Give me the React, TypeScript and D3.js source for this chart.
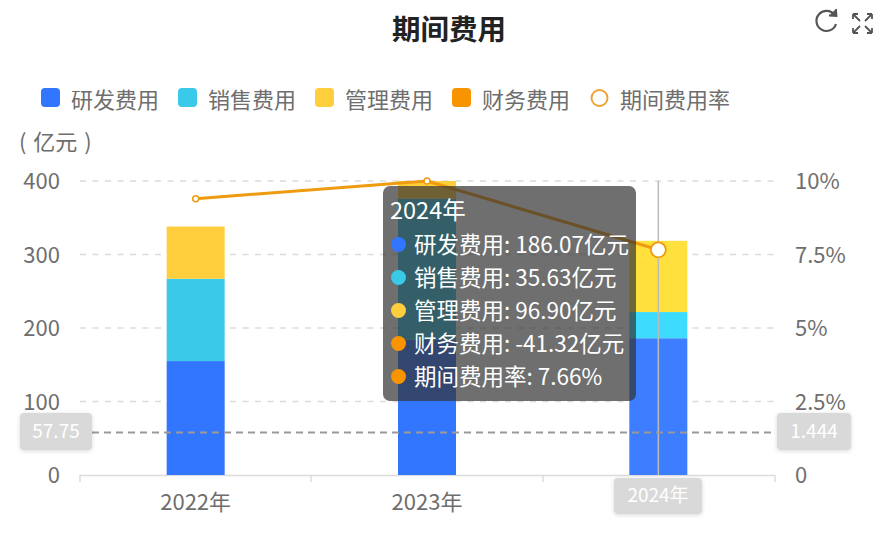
// @ts-nocheck
import React from "react";
import * as d3 from "d3";

const years = ["2022年", "2023年", "2024年"];
const seriesNames = ["研发费用", "销售费用", "管理费用", "财务费用"];
const rdValues = [155, 184, 186.07];
const salesValues = [112, 192, 35.63];
const adminValues = [71, 24, 96.9];
const financeValues = [-30, -35, -41.32];
const rateValues = [9.4, 10, 7.66];
const leftTicks = [0, 100, 200, 300, 400];
const rightTicks = [0, 2.5, 5, 7.5, 10];
const seriesColors = ["#3276ff", "#3bc9ea", "#ffce3d", "#f79400"];
const hoverColors = ["#3d7dff", "#3ddcff", "#ffe03d", "#ff9e00"];
const lineColor = "#ef9b0f";
const tooltipRows = ["研发费用: 186.07亿元", "销售费用: 35.63亿元", "管理费用: 96.90亿元", "财务费用: -41.32亿元", "期间费用率: 7.66%"];
const tooltipDots = ["#3276ff", "#3bc9ea", "#ffce3d", "#f79400", "#f79400"];
const pointerLeft = 57.75;
const pointerRight = 1.444;

const font = "'Noto Sans CJK SC', 'Noto Sans', sans-serif";
const grey = "#6e6e6e";

export default function App() {
  const x = d3.scaleBand().domain(years).range([80, 774]);
  const y = d3.scaleLinear().domain([0, 400]).range([475, 181]);
  const yRate = d3.scaleLinear().domain([0, 10]).range([475, 181]);
  const barW = 58;
  const cx = (d) => x(d) + x.bandwidth() / 2;

  const rows = years.map((yr, i) => ({ yr, a: rdValues[i], b: salesValues[i], c: adminValues[i], d: financeValues[i] }));
  const stacked = d3.stack().keys(["a", "b", "c"])(rows);
  const line = d3.line().x((d, i) => cx(years[i])).y((d) => yRate(d));

  const legendX = [41, 178, 315, 452];
  const boundaries = [80, 311, 543, 775];

  return (
    <svg width={886} height={540} style={{ position: "absolute", left: 0, top: 0, fontFamily: font }}>
      <defs>
        <filter id="labelShadow" x="-20%" y="-20%" width="140%" height="140%">
          <feDropShadow dx="0" dy="1" stdDeviation="2" floodColor="#000" floodOpacity="0.15" />
        </filter>
      </defs>
      <rect width={886} height={540} fill="#fff" />
      <text x={449} y={40} textAnchor="middle" fontSize={28.5} fontWeight={700} fill="#222">期间费用</text>

      {/* toolbox icons */}
      <g fill="none" stroke="#555" strokeWidth={2.2}>
        <path d="M834.5 15 A10 10 0 1 0 836 24" />
        <path d="M829 15.5 L836.5 16 L836 9" strokeWidth={1.8} fill="#555" />
        <path d="M853 14 L860 21 M853 14 l0 5 M853 14 l5 0" strokeWidth={1.8} />
        <path d="M872 14 L865 21 M872 14 l0 5 M872 14 l-5 0" strokeWidth={1.8} />
        <path d="M853 33 L860 26 M853 33 l0 -5 M853 33 l5 0" strokeWidth={1.8} />
        <path d="M872 33 L865 26 M872 33 l0 -5 M872 33 l-5 0" strokeWidth={1.8} />
      </g>

      {/* legend */}
      {seriesNames.map((name, i) => (
        <g key={name}>
          <rect x={legendX[i]} y={88} width={19} height={19} rx={4} fill={seriesColors[i]} />
          <text x={legendX[i] + 30} y={108} fontSize={22} fill={grey}>{name}</text>
        </g>
      ))}
      <circle cx={599.5} cy={98} r={8} fill="#fff" stroke="#f0a030" strokeWidth={1.9} />
      <text x={620} y={108} fontSize={22} fill={grey}>期间费用率</text>

      <text x={19} y={150} fontSize={22} fill={grey} wordSpacing={2}>( 亿元 )</text>

      {/* grid */}
      {leftTicks.slice(1).map((t) => (
        <line key={t} x1={80} x2={775} y1={y(t)} y2={y(t)} stroke="#dcdcdc" strokeWidth={1.5} strokeDasharray="6 6.5" />
      ))}
      {leftTicks.map((t) => (
        <text key={t} x={60} y={y(t) + 8} textAnchor="end" fontSize={22} fill={grey}>{t}</text>
      ))}
      {rightTicks.map((t) => (
        <text key={t} x={795} y={yRate(t) + 8} fontSize={22} fill={grey}>{t === 0 ? "0" : t + "%"}</text>
      ))}

      {/* x axis */}
      <line x1={80} x2={775} y1={475.5} y2={475.5} stroke="#dcdcdc" strokeWidth={1.5} />
      {boundaries.map((b) => (
        <line key={b} x1={b} x2={b} y1={475} y2={482} stroke="#dcdcdc" strokeWidth={1.5} />
      ))}
      {years.slice(0, 2).map((yr) => (
        <text key={yr} x={cx(yr)} y={510} textAnchor="middle" fontSize={22} fill={grey}>{yr}</text>
      ))}

      {/* bars */}
      {stacked.map((s, si) =>
        s.map((d, i) => (
          <rect
            key={si + "-" + i}
            x={cx(years[i]) - barW / 2}
            width={barW}
            y={y(d[1])}
            height={y(d[0]) - y(d[1])}
            fill={i === 2 ? hoverColors[si] : seriesColors[si]}
          />
        ))
      )}

      {/* axis pointers */}
      <line x1={cx("2024年")} x2={cx("2024年")} y1={181} y2={475} stroke="#bbb" strokeWidth={1.5} />
      <line x1={80} x2={775} y1={y(pointerLeft)} y2={y(pointerLeft)} stroke="#999" strokeWidth={2} strokeDasharray="7 5" />

      {/* rate line */}
      <path d={line(rateValues)} fill="none" stroke={lineColor} strokeWidth={3} />
      {rateValues.map((v, i) =>
        i === 2 ? null : <circle key={i} cx={cx(years[i])} cy={yRate(v)} r={3} fill="#fff" stroke={lineColor} strokeWidth={1.5} />
      )}
      <circle cx={cx("2024年")} cy={yRate(rateValues[2])} r={7.5} fill="#fff" stroke={lineColor} strokeWidth={1.8} />

      {/* pointer labels */}
      <g filter="url(#labelShadow)">
        <rect x={20} y={413} width={72} height={37} rx={4} fill="#d9d9d9" />
        <rect x={777} y={413} width={74} height={37} rx={4} fill="#d9d9d9" />
        <rect x={614} y={478} width={88} height={36} rx={4} fill="#d9d9d9" />
      </g>
      <text x={56} y={438} textAnchor="middle" fontSize={19} fill="#fff">{pointerLeft}</text>
      <text x={814} y={438} textAnchor="middle" fontSize={19} fill="#fff">{pointerRight}</text>
      <text x={658} y={502} textAnchor="middle" fontSize={19} fill="#fff">2024年</text>

      {/* tooltip */}
      <rect x={383} y={186} width={253} height={215} rx={7} fill="#323232" fillOpacity={0.7} />
      <text x={390} y={219} fontSize={23.5} fill="#fff">2024年</text>
      {tooltipRows.map((r, i) => (
        <g key={r}>
          <circle cx={398.5} cy={244.5 + i * 33} r={7.5} fill={tooltipDots[i]} />
          <text x={414} y={252.5 + i * 33} fontSize={22.5} fill="#fff">{r}</text>
        </g>
      ))}
    </svg>
  );
}
